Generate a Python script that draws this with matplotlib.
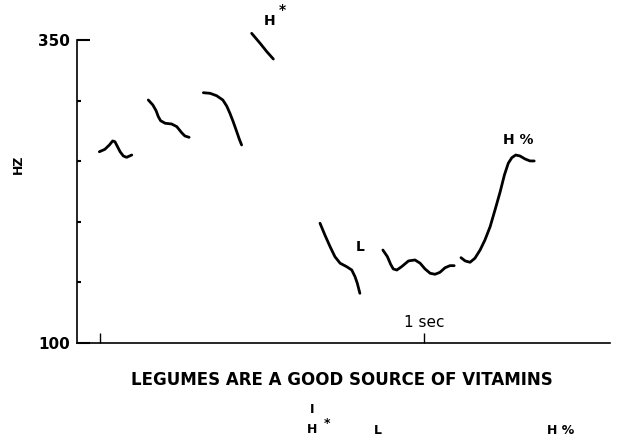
import matplotlib
matplotlib.use("Agg")
import matplotlib.pyplot as plt

plt.rcParams['font.family'] = ['DejaVu Sans']

# pitch track segments, time in seconds and F0 in Hz
seg1_t = [-0.002, 0.015, 0.029, 0.039, 0.046, 0.053, 0.062, 0.072, 0.082, 0.098]
seg1_hz = [257.8, 259.8, 263.4, 266.7, 266.1, 262.5, 257.8, 254.3, 253.2, 255.1]

seg2_t = [0.149, 0.163, 0.173, 0.180, 0.187, 0.201, 0.221, 0.237, 0.252, 0.262, 0.275]
seg2_hz = [300.5, 296.4, 291.7, 286.7, 283.4, 281.3, 280.7, 278.5, 273.5, 270.8, 269.7]

seg3_t = [0.319, 0.340, 0.360, 0.379, 0.391, 0.401, 0.411, 0.422, 0.430, 0.437]
seg3_hz = [306.5, 306.0, 304.0, 300.5, 295.5, 289.5, 282.6, 274.3, 268.1, 263.4]

seg4_t = [0.468, 0.494, 0.515, 0.535]
seg4_hz = [355.5, 347.3, 340.3, 334.3]

seg5_t = [0.679, 0.694, 0.710, 0.725, 0.741, 0.761, 0.777, 0.787, 0.794, 0.802]
seg5_hz = [198.8, 189.1, 179.5, 171.2, 165.8, 163.0, 160.2, 154.7, 149.3, 141.0]

seg6_t = [0.873, 0.887, 0.897, 0.905, 0.916, 0.931, 0.952, 0.972, 0.988, 1.003,
          1.019, 1.034, 1.049, 1.065, 1.080, 1.093]
seg6_hz = [176.7, 171.2, 164.9, 161.1, 160.2, 163.0, 167.7, 168.5, 165.8, 161.1,
           157.5, 156.7, 158.3, 162.1, 163.8, 163.8]

seg7_t = [1.114, 1.127, 1.142, 1.157, 1.173, 1.188, 1.204, 1.219, 1.235, 1.248,
          1.260, 1.271, 1.283, 1.296, 1.312, 1.327, 1.340]
seg7_hz = [170.4, 167.7, 166.6, 169.9, 176.7, 185.0, 196.0, 209.7, 224.8, 238.6,
           248.3, 252.9, 255.1, 254.3, 251.8, 250.2, 250.2]

segments = [(seg1_t, seg1_hz), (seg2_t, seg2_hz), (seg3_t, seg3_hz), (seg4_t, seg4_hz),
            (seg5_t, seg5_hz), (seg6_t, seg6_hz), (seg7_t, seg7_hz)]

sentence = "LEGUMES ARE A GOOD SOURCE OF VITAMINS"
y_ticks = [100, 150, 200, 250, 300, 350]

fig = plt.figure(figsize=(6.19, 4.47), dpi=100)
ax = fig.add_axes([0.1244, 0.2327, 0.8611, 0.7673])

for t, hz in segments:
    ax.plot(t, hz, color='black', lw=2, solid_capstyle='round', solid_joinstyle='round')

ax.set_xlim(-0.071, 1.574)
ax.set_ylim(100, 383)

ax.spines['top'].set_visible(False)
ax.spines['right'].set_visible(False)
ax.spines['left'].set_bounds(100, 350)
ax.spines['left'].set_linewidth(1.2)
ax.spines['bottom'].set_linewidth(1.2)

# y axis: only the end values labelled
ax.set_yticks([100, 350])
ax.set_yticklabels(['100', '350'], fontsize=11, fontweight='bold')
ax.set_yticks(y_ticks[1:-1], minor=True)
ax.tick_params(axis='y', which='major', direction='in', length=9, width=1.5, pad=5)
ax.tick_params(axis='y', which='minor', direction='in', length=3, width=1.5)

# x axis: utterance start and 1 sec mark
ax.set_xticks([0, 1])
ax.set_xticklabels(['', ''])
ax.tick_params(axis='x', direction='in', length=7, width=1)
ax.text(1.0, 117.3, '1 sec', ha='center', va='center', fontsize=11)

ax.set_ylabel('HZ', fontsize=9, fontweight='bold')
ax.yaxis.set_label_coords(-0.097, 0.52)

# tone labels on the contour
ax.text(0.522, 365.7, 'H', ha='center', va='center', fontsize=10, fontweight='bold')
ax.text(0.562, 374.8, '*', ha='center', va='center', fontsize=10, fontweight='bold')
ax.text(0.802, 179.2, 'L', ha='center', va='center', fontsize=10, fontweight='bold')
ax.text(1.290, 267.5, 'H %', ha='center', va='center', fontsize=10, fontweight='bold')

# sentence and tone transcription underneath
fig.text(0.552, 0.151, sentence, ha='center', va='center', fontsize=12, fontweight='bold')
fig.text(0.504, 0.085, 'I', ha='center', va='center', fontsize=9, fontweight='bold')
fig.text(0.504, 0.040, 'H', ha='center', va='center', fontsize=9, fontweight='bold')
fig.text(0.528, 0.052, '*', ha='center', va='center', fontsize=9, fontweight='bold')
fig.text(0.610, 0.037, 'L', ha='center', va='center', fontsize=9, fontweight='bold')
fig.text(0.906, 0.038, 'H %', ha='center', va='center', fontsize=9, fontweight='bold')

fig.savefig('out.png', dpi=100)
